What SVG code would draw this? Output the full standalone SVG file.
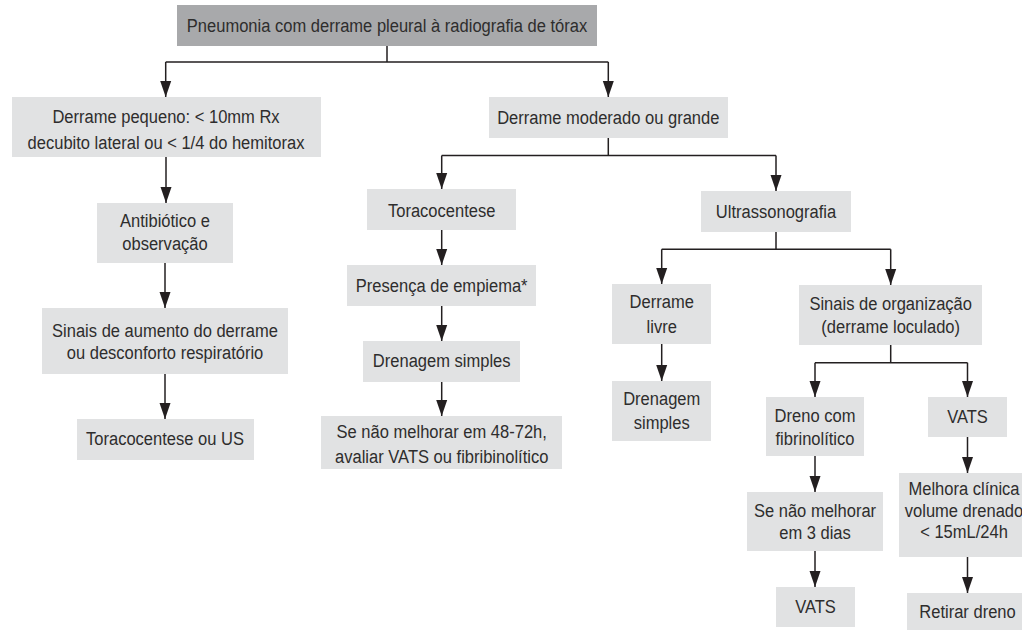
<svg xmlns="http://www.w3.org/2000/svg" width="1022" height="630" viewBox="0 0 1022 630">
<defs>
<style>
.b{fill:#e1e2e3}
.bt{fill:#a8a9ab}
.t{font-family:"Liberation Sans",Arial,sans-serif;font-size:19px;fill:#2e2d2d;text-anchor:middle}
.c{fill:none;stroke:#231f20;stroke-width:1.5}
.a{marker-end:url(#ah)}
</style>
<marker id="ah" markerUnits="userSpaceOnUse" markerWidth="17" markerHeight="12" refX="16" refY="6" orient="auto">
<path d="M0,0.5 L16,6 L0,11.5 z" fill="#231f20"/>
</marker>
</defs>
<rect width="1022" height="630" fill="#ffffff"/>
<g id="connectors">
<path class="c" d="M387,46 V62 M165.7,62 H608.3"/>
<path class="c a" d="M165.7,62 V97"/>
<path class="c a" d="M608.3,62 V97"/>
<path class="c a" d="M166,157 V203"/>
<path class="c a" d="M165,263 V308"/>
<path class="c a" d="M165,374 V419"/>
<path class="c" d="M608.3,138 V155.5 M441.7,155.5 H776"/>
<path class="c a" d="M441.7,155.5 V189"/>
<path class="c a" d="M776,155.5 V191"/>
<path class="c a" d="M441.7,230 V265"/>
<path class="c a" d="M441.7,306 V341"/>
<path class="c a" d="M441.7,382 V416"/>
<path class="c" d="M776,232 V249.3 M661.7,249.3 H890.7"/>
<path class="c a" d="M661.7,249.3 V284"/>
<path class="c a" d="M890.7,249.3 V285"/>
<path class="c a" d="M661.7,344 V381"/>
<path class="c" d="M890.7,345 V362.7 M815,362.7 H967.5"/>
<path class="c a" d="M815,362.7 V397"/>
<path class="c a" d="M967.5,362.7 V397"/>
<path class="c a" d="M815,456 V492"/>
<path class="c a" d="M815,551 V587"/>
<path class="c a" d="M967.5,437 V473"/>
<path class="c a" d="M967.5,557 V593"/>
</g>
<g id="n1"><rect class="bt" x="177" y="5" width="420" height="41"/><text class="t" transform="translate(387,32) scale(.87,1)">Pneumonia com derrame pleural à radiografia de tórax</text></g>
<g id="n2"><rect class="b" x="12" y="97" width="309" height="60"/><text class="t" transform="translate(166,123) scale(.87,1)">Derrame pequeno: &lt; 10mm Rx</text><text class="t" transform="translate(166,149) scale(.87,1)">decubito lateral ou &lt; 1/4 do hemitorax</text></g>
<g id="n3"><rect class="b" x="489" y="97" width="239" height="41"/><text class="t" transform="translate(608.3,124) scale(.87,1)">Derrame moderado ou grande</text></g>
<g id="n4"><rect class="b" x="97" y="203" width="136" height="60"/><text class="t" transform="translate(165,227) scale(.87,1)">Antibiótico e</text><text class="t" transform="translate(165,250) scale(.87,1)">observação</text></g>
<g id="n5"><rect class="b" x="42" y="308" width="246" height="66"/><text class="t" transform="translate(165,336.5) scale(.87,1)">Sinais de aumento do derrame</text><text class="t" transform="translate(165,358.5) scale(.87,1)">ou desconforto respiratório</text></g>
<g id="n6"><rect class="b" x="77" y="419" width="177" height="41"/><text class="t" transform="translate(165,445) scale(.87,1)">Toracocentese ou US</text></g>
<g id="n7"><rect class="b" x="367" y="189" width="149" height="41"/><text class="t" transform="translate(441.7,216.5) scale(.87,1)">Toracocentese</text></g>
<g id="n8"><rect class="b" x="347" y="265" width="189" height="41"/><text class="t" transform="translate(441.7,291.5) scale(.87,1)">Presença de empiema*</text></g>
<g id="n9"><rect class="b" x="363" y="341" width="157" height="41"/><text class="t" transform="translate(441.7,366.5) scale(.87,1)">Drenagem simples</text></g>
<g id="n10"><rect class="b" x="321" y="416" width="241" height="53"/><text class="t" transform="translate(441.7,438.3) scale(.87,1)">Se não melhorar em 48-72h,</text><text class="t" transform="translate(441.7,463.3) scale(.87,1)">avaliar VATS ou fibribinolítico</text></g>
<g id="n11"><rect class="b" x="701" y="191" width="150" height="41"/><text class="t" transform="translate(776,218) scale(.87,1)">Ultrassonografia</text></g>
<g id="n12"><rect class="b" x="612" y="284" width="99" height="60"/><text class="t" transform="translate(661.7,308.3) scale(.87,1)">Derrame</text><text class="t" transform="translate(661.7,333) scale(.87,1)">livre</text></g>
<g id="n13"><rect class="b" x="612" y="381" width="99" height="60"/><text class="t" transform="translate(661.7,405) scale(.87,1)">Drenagem</text><text class="t" transform="translate(661.7,428.5) scale(.87,1)">simples</text></g>
<g id="n14"><rect class="b" x="799" y="285" width="183" height="60"/><text class="t" transform="translate(890.7,310) scale(.87,1)">Sinais de organização</text><text class="t" transform="translate(890.7,333) scale(.87,1)">(derrame loculado)</text></g>
<g id="n15"><rect class="b" x="766" y="397" width="98" height="59"/><text class="t" transform="translate(815,421.7) scale(.87,1)">Dreno com</text><text class="t" transform="translate(815,445) scale(.87,1)">fibrinolítico</text></g>
<g id="n16"><rect class="b" x="928" y="397" width="79" height="40"/><text class="t" transform="translate(967.5,423) scale(.87,1)">VATS</text></g>
<g id="n17"><rect class="b" x="747" y="492" width="136" height="59"/><text class="t" transform="translate(815,516.7) scale(.87,1)">Se não melhorar</text><text class="t" transform="translate(815,539) scale(.87,1)">em 3 dias</text></g>
<g id="n18"><rect class="b" x="776" y="587" width="79" height="40"/><text class="t" transform="translate(815.5,613) scale(.87,1)">VATS</text></g>
<g id="n19"><rect class="b" x="899" y="473" width="130" height="84"/><text class="t" transform="translate(964,495) scale(.87,1)">Melhora clínica</text><text class="t" transform="translate(964,516.7) scale(.87,1)">volume drenado</text><text class="t" transform="translate(964,538.3) scale(.87,1)">&lt; 15mL/24h</text></g>
<g id="n20"><rect class="b" x="907" y="593" width="120" height="40"/><text class="t" transform="translate(967.5,618) scale(.87,1)">Retirar dreno</text></g>
</svg>
